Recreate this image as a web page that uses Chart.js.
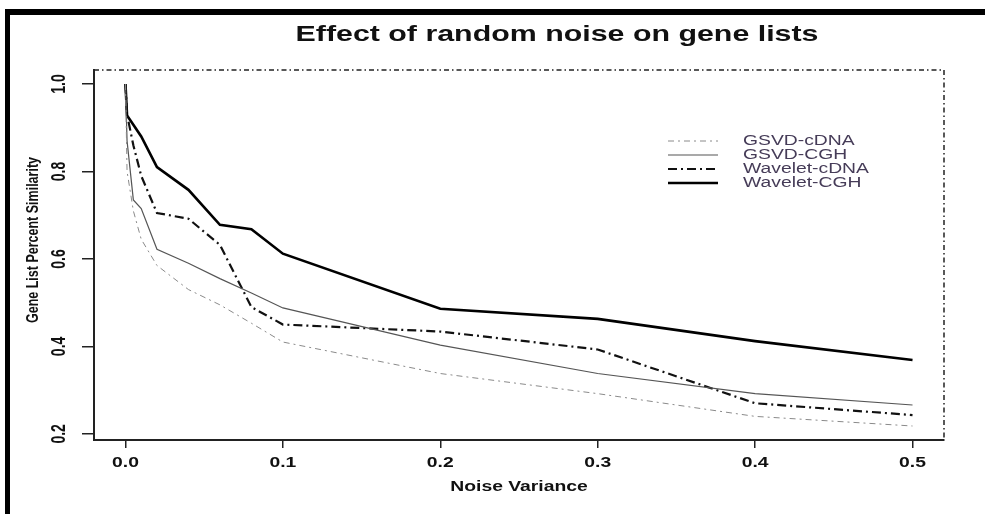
<!DOCTYPE html>
<html>
<head>
<meta charset="utf-8">
<title>Effect of random noise on gene lists</title>
<script src="https://cdn.jsdelivr.net/npm/chart.js@4.4.1/dist/chart.umd.min.js"></script>
<style>
    html, body { margin: 0; padding: 0; background: #fff; }
    #wrap { position: relative; width: 985px; height: 514px; overflow: hidden; }
    #chart { position: absolute; left: 0; top: 0; }
    #frame {
        position: absolute; left: 5px; top: 9px; width: 980px; height: 505px;
        border-left: 5px solid #000; border-top: 6px solid #000; pointer-events: none;
    }
</style>
</head>
<body>
<div id="wrap">
    <canvas id="chart" width="985" height="514"></canvas>
    <div id="frame"></div>
</div>
<script>
// values
const noiseVariance = [0, 0.001, 0.005, 0.01, 0.02, 0.04, 0.06, 0.08, 0.1, 0.2, 0.3, 0.4, 0.5];
const gsvdCdna    = [1.0, 0.80, 0.71, 0.645, 0.585, 0.53, 0.495, 0.453, 0.41, 0.338, 0.292, 0.24, 0.218];
const gsvdCgh     = [1.0, 0.87, 0.735, 0.715, 0.622, 0.59, 0.555, 0.522, 0.488, 0.403, 0.338, 0.292, 0.266];
const waveletCdna = [1.0, 0.93, 0.86, 0.79, 0.705, 0.692, 0.632, 0.49, 0.45, 0.434, 0.393, 0.27, 0.243];
const waveletCgh  = [1.0, 0.928, 0.907, 0.88, 0.81, 0.758, 0.678, 0.668, 0.612, 0.486, 0.463, 0.412, 0.369];

const seriesNames = ['GSVD-cDNA', 'GSVD-CGH', 'Wavelet-cDNA', 'Wavelet-CGH'];
const xTicks = [0, 0.1, 0.2, 0.3, 0.4, 0.5];
const yTicks = [0.2, 0.4, 0.6, 0.8, 1.0];

const FONT = '"Liberation Sans", Arial, sans-serif';
const STRETCH = 1.38;   // the original picture is wider than tall, letters look stretched

function toPoints(ys) {
    return noiseVariance.map((x, i) => ({ x: x, y: ys[i] }));
}

function stretchedText(ctx, text, x, y, o) {
    ctx.save();
    ctx.translate(x, y);
    if (o.rotate) ctx.rotate(o.rotate);
    ctx.scale(o.sx || 1, o.sy || 1);
    ctx.font = o.font;
    ctx.fillStyle = o.color || '#111';
    ctx.textAlign = o.align || 'center';
    ctx.textBaseline = o.baseline || 'middle';
    ctx.fillText(text, 0, 0);
    ctx.restore();
}

const decorations = {
    id: 'decorations',
    afterDraw(chart) {
        const ctx = chart.ctx;
        const area = chart.chartArea;
        const xs = chart.scales.x;
        const ys = chart.scales.y;

        // dash-dot box on top and right
        ctx.save();
        ctx.strokeStyle = '#222';
        ctx.lineWidth = 1.5;
        ctx.setLineDash([5, 3, 1.5, 3]);
        ctx.beginPath();
        ctx.moveTo(area.left, area.top);
        ctx.lineTo(area.right, area.top);
        ctx.lineTo(area.right, area.bottom);
        ctx.stroke();
        ctx.restore();

        // tick labels
        xs.ticks.forEach(t => {
            stretchedText(ctx, t.value.toFixed(1), xs.getPixelForValue(t.value), 463,
                { font: 'bold 14px ' + FONT, sx: STRETCH });
        });
        ys.ticks.forEach(t => {
            stretchedText(ctx, t.value.toFixed(1), 60, ys.getPixelForValue(t.value),
                { font: 'bold 14px ' + FONT, rotate: -Math.PI / 2, sy: STRETCH });
        });

        // titles
        stretchedText(ctx, 'Effect of random noise on gene lists', 557, 41,
            { font: 'bold 22px ' + FONT, sx: STRETCH, baseline: 'alphabetic' });
        stretchedText(ctx, 'Noise Variance', (area.left + area.right) / 2, 487,
            { font: 'bold 14px ' + FONT, sx: STRETCH });
        stretchedText(ctx, 'Gene List Percent Similarity', 33, 240,
            { font: 'bold 12.5px ' + FONT, rotate: -Math.PI / 2, sy: STRETCH });

        // legend
        chart.data.datasets.forEach((ds, i) => {
            const y = 141 + i * 14;
            ctx.save();
            ctx.strokeStyle = ds.borderColor;
            ctx.lineWidth = ds.borderWidth;
            ctx.setLineDash(ds.borderDash || []);
            ctx.beginPath();
            ctx.moveTo(668, y);
            ctx.lineTo(718, y);
            ctx.stroke();
            ctx.restore();
            stretchedText(ctx, ds.label, 743, y,
                { font: '14px ' + FONT, sx: STRETCH, align: 'left', color: '#463c58' });
        });
    }
};

const ctx = document.getElementById('chart').getContext('2d');

const config = {
    type: 'line',
    data: {
        datasets: [{
            label: seriesNames[0],
            data: toPoints(gsvdCdna),
            borderColor: '#8a8a8a',
            borderWidth: 1,
            borderDash: [6, 4, 2, 4],
        }, {
            label: seriesNames[1],
            data: toPoints(gsvdCgh),
            borderColor: '#555',
            borderWidth: 1.2,
        }, {
            label: seriesNames[2],
            data: toPoints(waveletCdna),
            borderColor: '#111',
            borderWidth: 2.2,
            borderDash: [9, 4, 2, 4],
        }, {
            label: seriesNames[3],
            data: toPoints(waveletCgh),
            borderColor: '#000',
            borderWidth: 2.6,
        }]
    },
    options: {
        responsive: false,
        animation: false,
        devicePixelRatio: 1,
        layout: { padding: { top: 70, right: 41, left: 0, bottom: 0 } },
        elements: {
            point: { radius: 0 },
            line: { tension: 0, fill: false }
        },
        scales: {
            x: {
                type: 'linear',
                min: -0.02,
                max: 0.52,
                afterBuildTicks: s => { s.ticks = xTicks.map(v => ({ value: v })); },
                afterFit: s => { s.height = 74; },
                ticks: { display: false },
                grid: { drawOnChartArea: false, tickLength: 8, color: '#222', lineWidth: 1.5 },
                border: { color: '#222', width: 2 }
            },
            y: {
                type: 'linear',
                min: 0.186,
                max: 1.032,
                afterBuildTicks: s => { s.ticks = yTicks.map(v => ({ value: v })); },
                afterFit: s => { s.width = 94; },
                ticks: { display: false },
                grid: { drawOnChartArea: false, tickLength: 12, color: '#222', lineWidth: 1.5 },
                border: { color: '#222', width: 2 }
            }
        },
        plugins: {
            legend: { display: false },
            title: { display: false },
            tooltip: { enabled: false }
        }
    },
    plugins: [decorations]
};

const chart = new Chart(ctx, config);
</script>
</body>
</html>
